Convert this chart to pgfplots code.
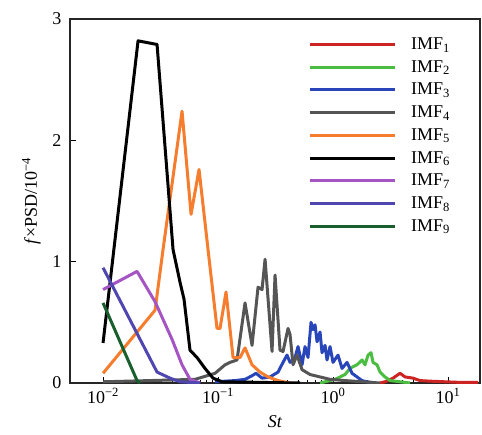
\documentclass[border=0pt]{standalone}
\usepackage{fontspec}
\setmainfont{Liberation Serif}
\usepackage{pgfplots}
\pgfplotsset{compat=1.18}

\definecolor{imfa}{RGB}{205,35,35}
\definecolor{imfb}{RGB}{75,190,65}
\definecolor{imfc}{RGB}{40,70,185}
\definecolor{imfd}{RGB}{85,85,85}
\definecolor{imfe}{RGB}{245,125,45}
\definecolor{imff}{RGB}{0,0,0}
\definecolor{imfg}{RGB}{165,85,195}
\definecolor{imfh}{RGB}{80,70,175}
\definecolor{imfi}{RGB}{25,95,45}

\begin{document}
\begin{tikzpicture}
\useasboundingbox (-70pt,-51pt) rectangle (412pt,383pt);
\begin{axis}[
  at={(0pt,0pt)}, anchor=south west,
  scale only axis, width=410pt, height=364pt,
  xmode=log, xmin=0.00516, xmax=18.97, ymin=0, ymax=3,
  xtick={0.01,0.1,1,10},
  xticklabels={10\textsuperscript{−2},10\textsuperscript{−1},10\textsuperscript{0},10\textsuperscript{1}},
  ytick={0,1,2,3}, yticklabels={0,1,2,3},
  xtick pos=bottom, ytick pos=left,
  tick align=inside,
  major tick length=6pt, minor tick length=3pt,
  every tick/.style={black, line width=0.8pt},
  axis line style={line width=1.2pt, black!85},
  ticklabel style={font=\fontsize{18}{20}\selectfont},
  xticklabel style={yshift=-2pt},
  yticklabel style={xshift=-5pt},
  xlabel={\textit{St}}, ylabel={\textit{f}×PSD/10\textsuperscript{−4}},
  label style={font=\fontsize{18}{20}\selectfont},
  xlabel style={inner sep=1pt, yshift=-8pt},
  ylabel style={yshift=5pt},
  legend image code/.code={\draw[#1] (0pt,0pt) -- (85pt,0pt);},
  legend style={at={(axis description cs:0.5805,0.955)}, anchor=north west,
    draw=none, fill=none, inner sep=0pt,
    font=\fontsize{18}{20}\selectfont,
    nodes={inner ysep=0pt, inner xsep=0pt, text height=14pt, text depth=4pt},
    row sep=4.7pt,
    /tikz/every odd column/.append style={column sep=15pt}},
  legend cell align=left,
  every axis plot/.append style={line width=3pt, line join=round},
]
% IMF1
\addplot[imfa] coordinates {
(2.5637,0.0) (2.8337,0.01) (3.3247,0.04) (3.8249,0.08) (4.2272,0.05) (4.9636,0.04)
(5.7066,0.02) (6.9747,0.015) (9.417,0.01) (12.72,0.005) (18.24,0.005)};
\addlegendentry{IMF\textsubscript{1}}
% IMF2
\addplot[imfb] coordinates {
(0.7709,0.0) (1.0409,0.03) (1.2724,0.07) (1.405,0.12) (1.4631,0.13) (1.6171,0.15)
(1.7874,0.19) (1.8982,0.15) (2.0160,0.23) (2.1399,0.25) (2.2275,0.17) (2.4138,0.15)
(2.5637,0.09) (2.8337,0.05) (3.1313,0.02) (3.8249,0.01) (4.6726,0.0)};
\addlegendentry{IMF\textsubscript{2}}
% IMF3
\addplot[imfc] coordinates {
(0.09417,0.01) (0.1405,0.02) (0.1717,0.03) (0.1976,0.06) (0.2140,0.08) (0.2414,0.04)
(0.2834,0.05) (0.3325,0.09) (0.3675,0.17) (0.3981,0.23) (0.4227,0.17) (0.4673,0.21)
(0.4962,0.30) (0.5375,0.15) (0.5707,0.30) (0.6061,0.21) (0.6437,0.50) (0.6700,0.44)
(0.6975,0.48) (0.7261,0.34) (0.7709,0.42) (0.8022,0.25) (0.8518,0.31) (0.8868,0.19)
(0.9417,0.30) (1.0,0.17) (1.1053,0.23) (1.1976,0.12) (1.3237,0.17) (1.4631,0.08)
(1.6171,0.05) (1.7874,0.02) (1.9757,0.01) (2.3183,0.0)};
\addlegendentry{IMF\textsubscript{3}}
% IMF4
\addplot[imfd] coordinates {
(0.0100,0.01) (0.02563,0.02) (0.0631,0.03) (0.09417,0.08) (0.1151,0.15) (0.1272,0.17)
(0.1463,0.19) (0.1717,0.66) (0.1976,0.31) (0.2228,0.79) (0.2414,0.77) (0.2564,1.02)
(0.2949,0.26) (0.3131,0.89) (0.3460,0.27) (0.3675,0.26) (0.4062,0.45) (0.4227,0.40)
(0.4490,0.15) (0.4864,0.23) (0.5375,0.11) (0.6310,0.07) (0.7709,0.05) (0.9417,0.03)
(1.2724,0.02) (2.5637,0.0)};
\addlegendentry{IMF\textsubscript{4}}
% IMF5
\addplot[imfe] coordinates {
(0.0100,0.08) (0.02834,0.60) (0.03325,1.10) (0.04864,2.24) (0.05825,1.39) (0.06836,1.76)
(0.08185,1.10) (0.0980,0.45) (0.1041,0.45) (0.1174,0.75) (0.1351,0.21) (0.1554,0.21)
(0.1717,0.29) (0.1976,0.15) (0.2318,0.09) (0.2722,0.05) (0.3325,0.02) (0.4227,0.0)};
\addlegendentry{IMF\textsubscript{5}}
% IMF6
\addplot[imff] coordinates {
(0.0100,0.33) (0.02016,2.82) (0.02949,2.79) (0.04062,1.10) (0.04673,0.83) (0.05062,0.69)
(0.05707,0.27) (0.06569,0.21) (0.07709,0.12) (0.09049,0.04) (0.1083,0.01) (0.5164,0.0)};
\addlegendentry{IMF\textsubscript{6}}
% IMF7
\addplot[imfg] coordinates {
(0.0100,0.77) (0.01976,0.92) (0.02834,0.67) (0.03981,0.36) (0.04864,0.15) (0.05707,0.03)
(0.0700,0.0)};
\addlegendentry{IMF\textsubscript{7}}
% IMF8
\addplot[imfh] coordinates {
(0.0100,0.95) (0.02949,0.09) (0.03825,0.04) (0.04673,0.01) (0.0700,0.0)};
\addlegendentry{IMF\textsubscript{8}}
% IMF9
\addplot[imfi] coordinates {
(0.0100,0.66) (0.01976,0.02) (0.0210,0.0)};
\addlegendentry{IMF\textsubscript{9}}
\end{axis}
\end{tikzpicture}
\end{document}
